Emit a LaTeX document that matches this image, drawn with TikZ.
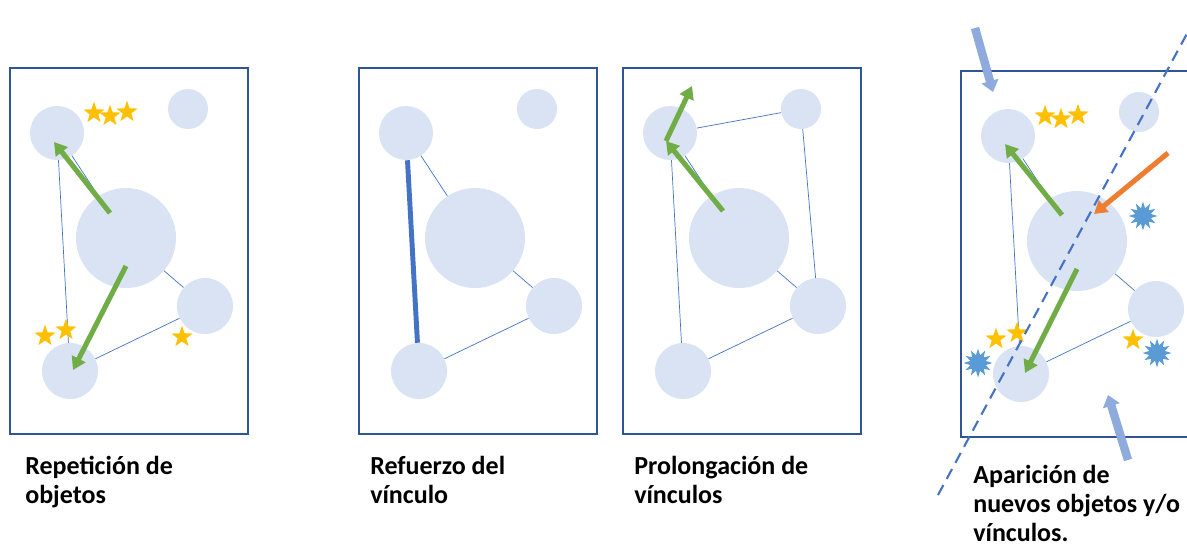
\documentclass[tikz,border=0pt]{standalone}
\usepackage{fontspec}
\setmainfont{Carlito}
\usetikzlibrary{arrows.meta,shapes.geometric}

\definecolor{objfill}{HTML}{DAE3F3}
\definecolor{framec}{HTML}{2F5597}
\definecolor{linkc}{HTML}{4472C4}
\definecolor{growc}{HTML}{70AD47}
\definecolor{starc}{HTML}{FFC000}
\definecolor{burstc}{HTML}{5B9BD5}
\definecolor{cutc}{HTML}{ED7D31}
\definecolor{pushc}{HTML}{8FAADC}

% frame and the five objects of one panel
\newcommand{\objetos}[1]{%
  \draw[marco] (10,68) rectangle (248,434);
  \node[obj, minimum size=1.35cm] (#1tl) at (57,133) {};
  \node[obj, minimum size=1.0cm]  (#1tr) at (188,109) {};
  \node[obj, minimum size=2.5cm]  (#1big) at (126,238) {};
  \node[obj, minimum size=1.4cm]  (#1rt) at (205,306) {};
  \node[obj, minimum size=1.4cm]  (#1bt) at (70,371) {};
}
% the six stars
\newcommand{\estrellas}[1]{%
  \node[estrella] (#1s1) at (94,113) {};
  \node[estrella] (#1s2) at (110,116) {};
  \node[estrella] (#1s3) at (127,112) {};
  \node[estrella] (#1s4) at (45,336) {};
  \node[estrella] (#1s5) at (66,330) {};
  \node[estrella] (#1s6) at (182,337) {};
}

\begin{document}
\begin{tikzpicture}[x=0.025cm, y=-0.025cm,
    marco/.style={draw=framec, line width=1pt},
    obj/.style={circle, fill=objfill, inner sep=0pt},
    linea/.style={linkc, line width=0.5pt},
    flecha/.style={growc, line width=3.6pt, -{Triangle[length=9pt, width=10.5pt]}},
    estrella/.style={star, star points=5, star point ratio=2.5, fill=starc,
                     minimum size=0.56cm, inner sep=0pt},
    burst/.style={star, star points=12, star point ratio=1.8, fill=burstc,
                  minimum size=0.72cm, inner sep=0pt},
    empuje/.style={pushc, line width=6pt, -{Triangle[length=8pt, width=12pt]}},
    rotulo/.style={anchor=north west, align=left, inner sep=0pt,
                   font=\bfseries\fontsize{18.5}{20.5}\selectfont}]
  \useasboundingbox (0,0) rectangle (1187,548);

  % Repeticion de objetos
  \begin{scope}
    \objetos{a}
    \draw[linea] (atl) -- (abig);
    \draw[linea] (atl) -- (abt);
    \draw[linea] (abig) -- (art);
    \draw[linea] (art) -- (abt);
    \estrellas{a}
    \draw[flecha] (110,213) -- (54,142);
    \draw[flecha] (126,266) -- (73,370);
  \end{scope}

  % Refuerzo del vinculo
  \begin{scope}[shift={(349,0)}]
    \objetos{b}
    \draw[linea] (btl) -- (bbig);
    \draw[linea] (bbig) -- (brt);
    \draw[linea] (brt) -- (bbt);
    \draw[linkc, line width=3.5pt] (btl) -- (bbt);
  \end{scope}

  % Prolongacion de vinculos
  \begin{scope}[shift={(613,0)}]
    \objetos{c}
    \draw[linea] (ctl) -- (ctr);
    \draw[linea] (ctl) -- (cbig);
    \draw[linea] (ctl) -- (cbt);
    \draw[linea] (ctr) -- (crt);
    \draw[linea] (cbig) -- (crt);
    \draw[linea] (crt) -- (cbt);
    \coordinate (cpivot) at (53,141);
    \draw[flecha] (110,211) -- (cpivot);
    \draw[flecha] (cpivot) -- (79,86);
  \end{scope}

  % Aparicion de nuevos objetos
  \begin{scope}[shift={(951,3)}]
    \objetos{d}
    \draw[linea] (dtl) -- (dbig);
    \draw[linea] (dtl) -- (dbt);
    \draw[linea] (dbig) -- (drt);
    \draw[linea] (drt) -- (dbt);
    \estrellas{d}
    \node[burst] (db1) at (192,213) {};
    \node[burst] (db2) at (27,360) {};
    \node[burst] (db3) at (206,350) {};
    \draw[flecha] (111,212) -- (54,141);
    \draw[flecha] (126,266) -- (74,370);
    \draw[cutc, line width=3.6pt, -{Triangle[length=9pt, width=10.5pt]}]
      (217,150) -- (143,211);
  \end{scope}
  \draw[linkc, line width=1.5pt, dash pattern=on 8pt off 5pt] (938,495) -- (1190,28);
  \draw[empuje] (975,28) -- (993,92);
  \draw[empuje] (1128,460) -- (1108,395);

  % labels
  \node[rotulo] (l1) at (25,456) {Repetición de\\objetos};
  \node[rotulo] (l2) at (370,456) {Refuerzo del\\vínculo};
  \node[rotulo] (l3) at (634,456) {Prolongación de\\vínculos};
  \node[rotulo] (l4) at (973,465) {Aparición de\\nuevos objetos y/o\\vínculos.};
\end{tikzpicture}
\end{document}
